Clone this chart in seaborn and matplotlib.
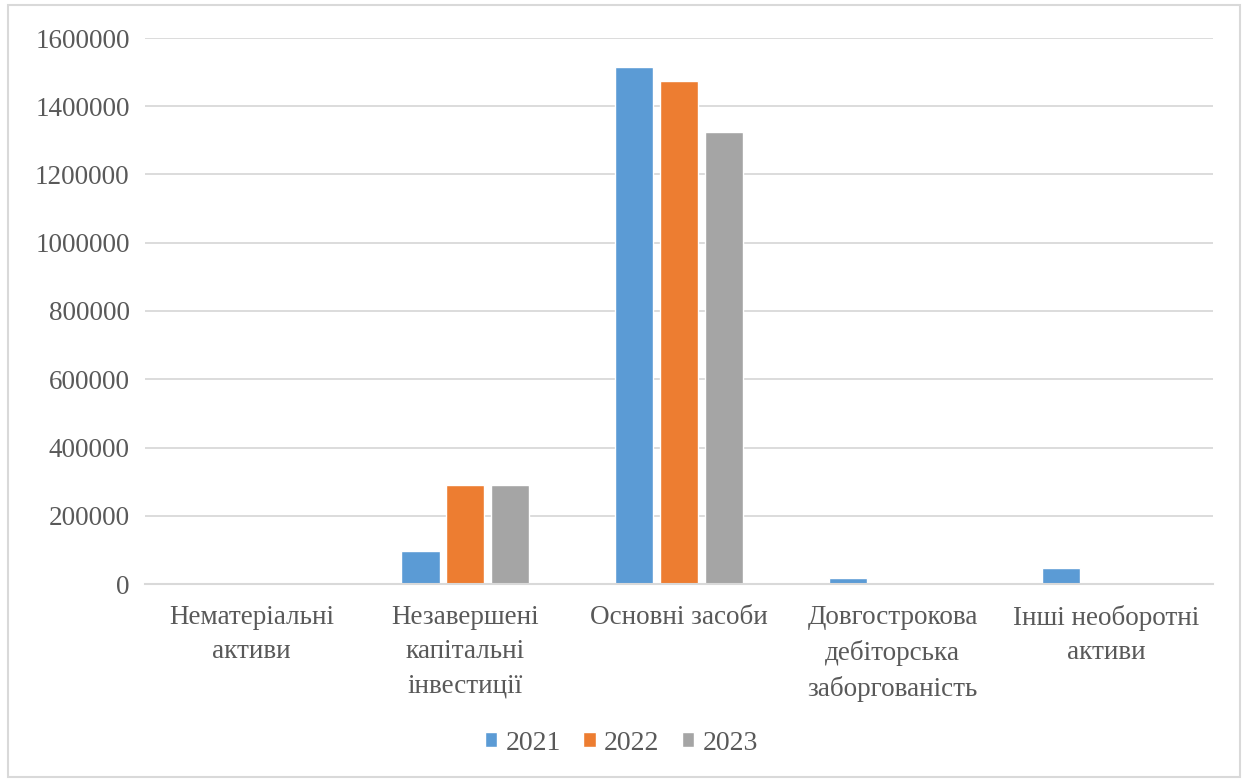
import matplotlib

matplotlib.use("Agg")

import matplotlib.pyplot as plt
import pandas as pd
import seaborn as sns
from matplotlib.patches import Rectangle

categories = [
    "Нематеріальні\nактиви",
    "Незавершені\nкапітальні\nінвестиції",
    "Основні засоби",
    "Довгострокова\nдебіторська\nзаборгованість",
    "Інші необоротні\nактиви",
]
years = ["2021", "2022", "2023"]
values_2021 = [0, 97000, 1516000, 17000, 47000]
values_2022 = [0, 289000, 1474000, 0, 0]
values_2023 = [0, 289000, 1325000, 0, 0]
y_ticks = [0, 200000, 400000, 600000, 800000, 1000000, 1200000, 1400000, 1600000]

colors = {"2021": "#5b9bd5", "2022": "#ed7d31", "2023": "#a5a5a5"}
text_color = "#595959"

rows = []
for year, vals in zip(years, [values_2021, values_2022, values_2023]):
    for cat, v in zip(categories, vals):
        rows.append({"category": cat, "year": year, "value": v})
data = pd.DataFrame(rows)

sns.set_theme(style="white")
plt.rcParams["font.family"] = ["Liberation Serif", "DejaVu Serif"]

fig = plt.figure(figsize=(12.43, 7.8), dpi=100)
ax = fig.add_axes([145 / 1243, 1 - 584 / 780, (1213 - 145) / 1243, (584 - 38) / 780])

sns.barplot(
    data=data,
    x="category",
    y="value",
    hue="year",
    palette=colors,
    width=0.63,
    gap=0.15,
    saturation=1,
    ax=ax,
)

ax.set_ylim(0, 1600000)
ax.set_yticks(y_ticks)
ax.set_yticklabels([str(t) for t in y_ticks])
ax.yaxis.grid(True, color="#d9d9d9", linewidth=1.3)
ax.set_axisbelow(True)
for side in ("top", "right", "left"):
    ax.spines[side].set_visible(False)
ax.spines["bottom"].set_color("#d9d9d9")
ax.spines["bottom"].set_linewidth(1.5)
ax.set_xlabel("")
ax.set_ylabel("")
ax.tick_params(axis="both", length=0, labelsize=19.5, labelcolor=text_color)
ax.tick_params(axis="x", pad=15)
ax.tick_params(axis="y", pad=11)
for label in ax.get_xticklabels():
    label.set_linespacing(1.5)

handles, labels = ax.get_legend_handles_labels()
ax.legend_.remove()
fig.legend(
    handles,
    labels,
    loc="center",
    bbox_to_anchor=(0.5, 1 - 743 / 780),
    ncol=3,
    frameon=False,
    fontsize=20,
    labelcolor=text_color,
    handlelength=0.45,
    handleheight=0.45,
    handletextpad=0.3,
    columnspacing=0.8,
)

fig.patches.append(
    Rectangle(
        (8 / 1243, 3 / 780),
        (1240 - 8) / 1243,
        (775 - 3) / 780,
        transform=fig.transFigure,
        fill=False,
        edgecolor="#d9d9d9",
        linewidth=1.5,
    )
)

fig.savefig("out.png", dpi=100)
